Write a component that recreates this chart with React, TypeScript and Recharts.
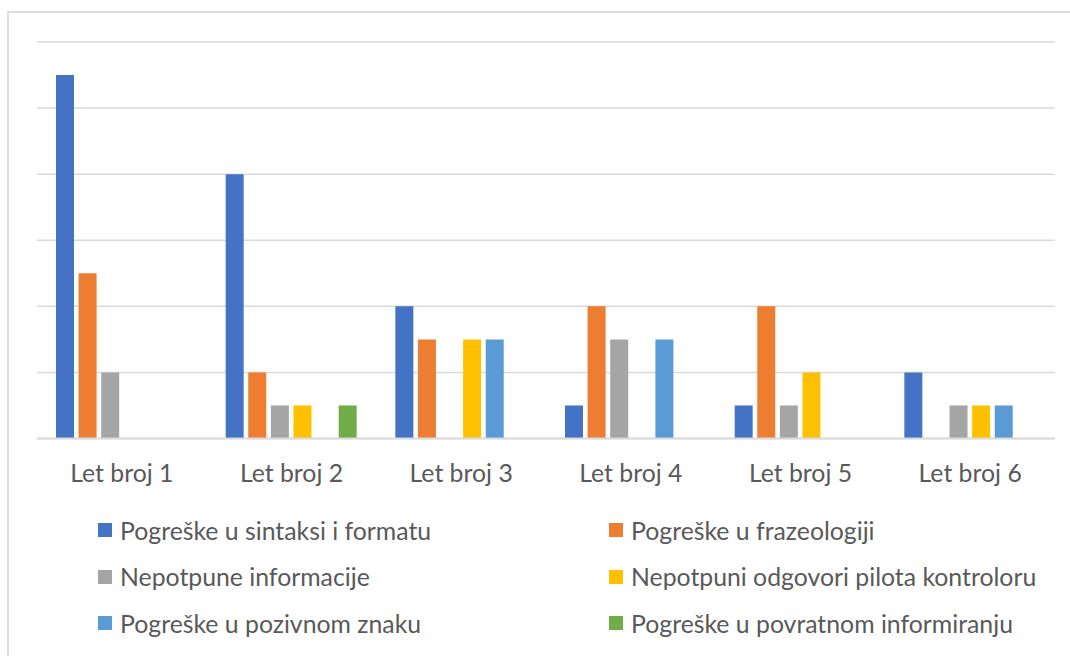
import React from "react";
import { BarChart, Bar, XAxis, YAxis, CartesianGrid, Legend } from "recharts";

const categories = ["Let broj 1", "Let broj 2", "Let broj 3", "Let broj 4", "Let broj 5", "Let broj 6"];
const sintaksa = [11, 8, 4, 1, 1, 2];
const frazeologija = [5, 2, 3, 4, 4, 0];
const nepotpuneInfo = [2, 1, 0, 3, 1, 1];
const nepotpuniOdgovori = [0, 1, 3, 0, 2, 1];
const pozivniZnak = [0, 0, 3, 3, 0, 1];
const povratno = [0, 1, 0, 0, 0, 0];
const yTicks = [0, 2, 4, 6, 8, 10, 12];

const seriesNames = [
  "Pogreške u sintaksi i formatu",
  "Pogreške u frazeologiji",
  "Nepotpune informacije",
  "Nepotpuni odgovori pilota kontroloru",
  "Pogreške u pozivnom znaku",
  "Pogreške u povratnom informiranju",
];
const seriesValues = [sintaksa, frazeologija, nepotpuneInfo, nepotpuniOdgovori, pozivniZnak, povratno];
const seriesColors = ["#4472C4", "#ED7D31", "#A5A5A5", "#FFC000", "#5B9BD5", "#70AD47"];
const keys = ["s0", "s1", "s2", "s3", "s4", "s5"];

const data = categories.map((c, i) => {
  const row: Record<string, string | number> = { name: c };
  keys.forEach((k, j) => {
    row[k] = seriesValues[j][i];
  });
  return row;
});

const FONT = "Lato, 'Liberation Sans', sans-serif";

const LegendContent = () => (
  <div
    style={{
      width: 1070,
      height: 140,
      position: "relative",
      fontFamily: FONT,
      fontSize: 24.8,
      color: "#595959",
    }}
  >
    {seriesNames.map((n, i) => {
      const col = i % 2;
      const row = Math.floor(i / 2);
      return (
        <div
          key={n}
          style={{
            position: "absolute",
            left: col === 0 ? 98 : 609,
            top: row * 46.5,
            height: 46,
            display: "flex",
            alignItems: "center",
            whiteSpace: "nowrap",
          }}
        >
          <span
            style={{
              display: "inline-block",
              width: 14,
              height: 14,
              background: seriesColors[i],
              marginRight: 8,
            }}
          />
          <span>{n}</span>
        </div>
      );
    })}
  </div>
);

export default function App() {
  return (
    <div style={{ position: "absolute", left: 0, top: 0, width: 1070, height: 656, overflow: "hidden", background: "#fff" }}>
      <div
        style={{
          position: "absolute",
          left: 7,
          top: 11,
          width: 1070,
          height: 660,
          borderTop: "2px solid #DDDDDD",
          borderLeft: "2px solid #DDDDDD",
          boxSizing: "border-box",
        }}
      />
      <div style={{ position: "absolute", left: 0, top: 0 }}>
        <BarChart
          width={1070}
          height={656}
          data={data}
          margin={{ top: 42, right: 15, left: 37, bottom: 17.5 }}
          barCategoryGap={19}
          barGap={4.6}
        >
          <CartesianGrid vertical={false} stroke="#D9D9D9" strokeWidth={1.5} />
          <YAxis hide domain={[0, 12]} ticks={yTicks} />
          <XAxis
            dataKey="name"
            height={60}
            axisLine={{ stroke: "#D9D9D9", strokeWidth: 2 }}
            tickLine={false}
            tickSize={0}
            tickMargin={26}
            tick={{ fill: "#595959", fontSize: 24.8, fontFamily: FONT }}
            interval={0}
          />
          <Legend
            verticalAlign="bottom"
            content={<LegendContent />}
            wrapperStyle={{ left: 0, top: 507, width: 1070, height: 140 }}
          />
          {keys.map((k, j) => (
            <Bar key={k} dataKey={k} name={seriesNames[j]} fill={seriesColors[j]} isAnimationActive={false} />
          ))}
        </BarChart>
      </div>
    </div>
  );
}
